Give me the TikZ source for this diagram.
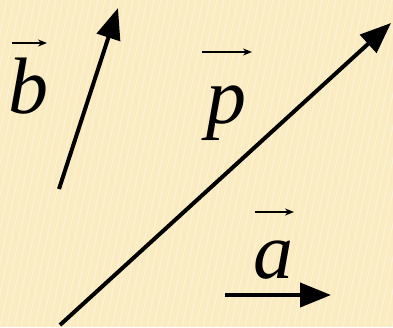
\documentclass[tikz,border=0pt]{standalone}
\usepackage{fontspec}
\setmainfont{Liberation Serif}
\usetikzlibrary{arrows.meta}
\definecolor{bgcream}{RGB}{250,235,192}
\tikzset{
  vec/.style={line width=4pt,-{Triangle[length=31pt,width=24pt]}},
  smallvec/.style={line width=1.6pt,-{Stealth[length=9pt,width=7pt]}},
  lbl/.style={font=\fontsize{80}{80}\selectfont\itshape,anchor=base west,inner sep=0pt},
  stripe/.style={white,opacity=0.35,line width=1.2pt}
}
\begin{document}
\begin{tikzpicture}[x=1pt,y=-1pt]
\fill[bgcream] (0,0) rectangle (393,327);
\useasboundingbox (0,0) rectangle (393,327);
\begin{scope}
\clip (0,0) rectangle (393,327);
\foreach \i in {-12,...,60} {
  \draw[stripe] (\i*7,327) -- (\i*7+70,0);
}
\end{scope}
% vectors
\coordinate (bt) at (59,189);
\coordinate (bh) at (118,8);
\coordinate (pt) at (60,325);
\coordinate (ph) at (391,23);
\coordinate (at) at (225,295);
\coordinate (ah) at (331,295);
\draw[vec] (bt) -- (bh);
\draw[vec] (pt) -- (ph);
\draw[vec] (at) -- (ah);
% labels
\node[lbl] (lb) at (8,113) {b};
\node[lbl] (lp) at (206,123) {p};
\node[lbl] (la) at (253,278) {a};
\coordinate (b1) at (12,43);
\coordinate (b2) at (47,43);
\coordinate (p1) at (202,52);
\coordinate (p2) at (252,52);
\coordinate (a1) at (255,212);
\coordinate (a2) at (294,212);
\draw[smallvec] (b1) -- (b2);
\draw[smallvec] (p1) -- (p2);
\draw[smallvec] (a1) -- (a2);
\end{tikzpicture}
\end{document}
